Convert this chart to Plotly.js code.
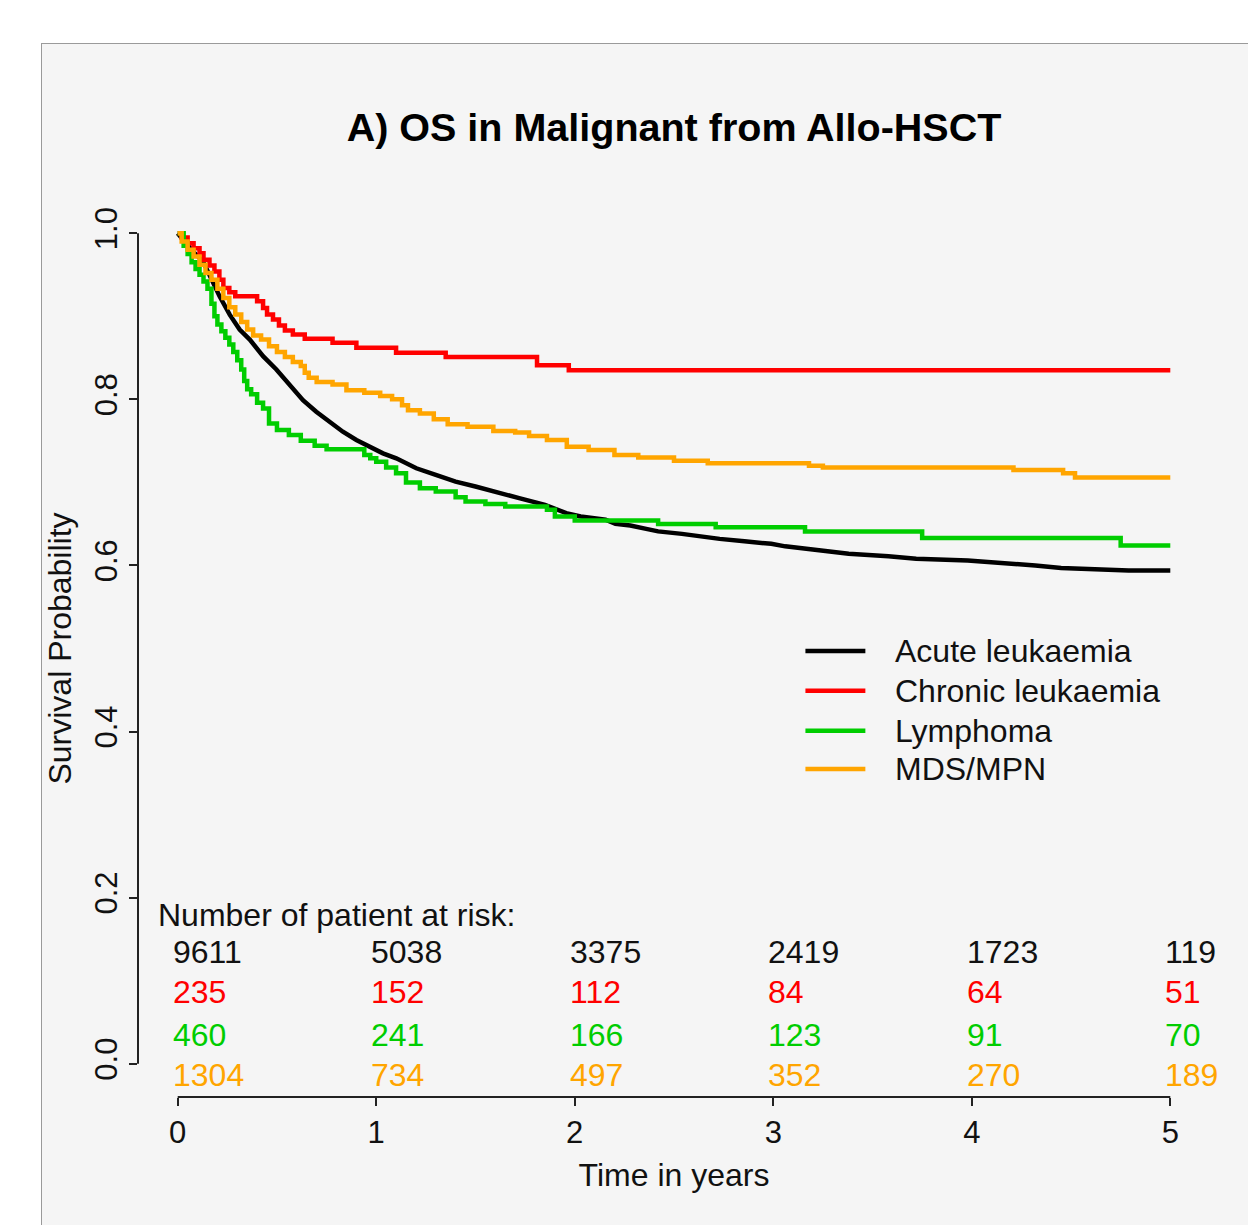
<!DOCTYPE html>
<html><head><meta charset="utf-8">
<script src="https://cdn.plot.ly/plotly-3.0.1.min.js"></script>
<style>
html,body{margin:0;padding:0;background:#fff;width:1248px;height:1225px;overflow:hidden;}
#panel{position:absolute;left:41px;top:43px;width:1207px;height:1182px;border-left:1px solid #9a9a9a;border-top:1px solid #9a9a9a;background:#f5f5f5;}
#chart{position:absolute;left:42px;top:44px;width:1206px;height:1181px;}
</style></head>
<body><div id="panel"></div><div id="chart"></div>
<script>
// ---- data ----
const groupNames = ['Acute leukaemia', 'Chronic leukaemia', 'Lymphoma', 'MDS/MPN'];
const groupColors = ['#000000', '#ff0000', '#00cd00', '#ffa500'];
const timeTicks = [0, 1, 2, 3, 4, 5];

const acuteTime = [0, 0.027, 0.077, 0.128, 0.178, 0.211, 0.262, 0.312, 0.363, 0.430, 0.497, 0.564, 0.631, 0.698, 0.765, 0.832, 0.900, 0.967, 1.034, 1.101, 1.202, 1.30, 1.40, 1.50, 1.62, 1.72, 1.85, 1.915, 1.957, 2.03, 2.155, 2.205, 2.28, 2.36, 2.42, 2.54, 2.63, 2.73, 2.855, 2.99, 3.06, 3.16, 3.26, 3.38, 3.58, 3.72, 3.98, 4.18, 4.32, 4.45, 4.79, 5.0];
const acuteSurv = [1.0, 0.992, 0.978, 0.966, 0.940, 0.924, 0.902, 0.884, 0.872, 0.852, 0.836, 0.817, 0.799, 0.785, 0.773, 0.761, 0.751, 0.743, 0.735, 0.729, 0.717, 0.709, 0.701, 0.695, 0.688, 0.681, 0.673, 0.667, 0.663, 0.659, 0.655, 0.650, 0.648, 0.644, 0.641, 0.638, 0.635, 0.632, 0.629, 0.626, 0.623, 0.620, 0.617, 0.614, 0.611, 0.608, 0.606, 0.603, 0.600, 0.597, 0.594, 0.594];

const chronicTime = [0, 0.02, 0.05, 0.08, 0.11, 0.13, 0.16, 0.185, 0.21, 0.23, 0.26, 0.29, 0.40, 0.43, 0.45, 0.48, 0.51, 0.54, 0.58, 0.64, 0.78, 0.90, 1.10, 1.35, 1.81, 1.97, 5.0];
const chronicSurv = [1.0, 0.995, 0.988, 0.982, 0.976, 0.968, 0.961, 0.954, 0.944, 0.934, 0.929, 0.924, 0.918, 0.910, 0.902, 0.896, 0.889, 0.883, 0.878, 0.873, 0.868, 0.862, 0.856, 0.851, 0.841, 0.835, 0.835];

const lymphTime = [0, 0.03, 0.05, 0.07, 0.09, 0.11, 0.13, 0.15, 0.17, 0.185, 0.20, 0.22, 0.24, 0.26, 0.28, 0.30, 0.32, 0.335, 0.35, 0.37, 0.40, 0.43, 0.46, 0.50, 0.56, 0.62, 0.69, 0.75, 0.94, 0.97, 1.0, 1.05, 1.10, 1.15, 1.22, 1.30, 1.40, 1.45, 1.55, 1.65, 1.86, 1.90, 2.0, 2.42, 2.71, 3.16, 3.75, 4.75, 5.0];
const lymphSurv = [1.0, 0.985, 0.975, 0.965, 0.957, 0.950, 0.942, 0.933, 0.915, 0.900, 0.890, 0.882, 0.874, 0.866, 0.857, 0.847, 0.836, 0.822, 0.812, 0.806, 0.796, 0.789, 0.771, 0.763, 0.757, 0.750, 0.744, 0.740, 0.733, 0.729, 0.725, 0.718, 0.711, 0.700, 0.693, 0.689, 0.682, 0.677, 0.674, 0.671, 0.667, 0.659, 0.654, 0.650, 0.646, 0.641, 0.633, 0.624, 0.624];

const mdsTime = [0, 0.02, 0.05, 0.08, 0.11, 0.14, 0.17, 0.20, 0.23, 0.26, 0.29, 0.32, 0.35, 0.38, 0.42, 0.46, 0.50, 0.54, 0.58, 0.62, 0.64, 0.66, 0.70, 0.78, 0.85, 0.94, 1.02, 1.08, 1.13, 1.16, 1.22, 1.29, 1.36, 1.46, 1.59, 1.70, 1.77, 1.86, 1.96, 2.07, 2.20, 2.32, 2.50, 2.67, 3.18, 3.25, 4.21, 4.46, 4.52, 5.0];
const mdsSurv = [1.0, 0.990, 0.980, 0.972, 0.962, 0.952, 0.944, 0.933, 0.922, 0.911, 0.902, 0.893, 0.884, 0.877, 0.872, 0.864, 0.857, 0.851, 0.845, 0.840, 0.832, 0.826, 0.821, 0.818, 0.811, 0.808, 0.804, 0.800, 0.793, 0.787, 0.783, 0.776, 0.770, 0.767, 0.762, 0.760, 0.756, 0.751, 0.743, 0.739, 0.733, 0.730, 0.726, 0.723, 0.720, 0.718, 0.715, 0.711, 0.706, 0.706];

const atRiskAcute = [9611, 5038, 3375, 2419, 1723, 119];
const atRiskChronic = [235, 152, 112, 84, 64, 51];
const atRiskLymph = [460, 241, 166, 123, 91, 70];
const atRiskMds = [1304, 734, 497, 352, 270, 189];

const yTickVals = [0, 0.2, 0.4, 0.6, 0.8, 1.0];
const yTickText = ['0.0', '0.2', '0.4', '0.6', '0.8', '1.0'];

// ---- chart ----
const FONT = 'Liberation Sans, Arial, Helvetica, sans-serif';
const LINE_W = 4.5;
const series = [[acuteTime, acuteSurv, 'linear'], [chronicTime, chronicSurv, 'hv'], [lymphTime, lymphSurv, 'hv'], [mdsTime, mdsSurv, 'hv']];
const traces = series.map((s, i) => ({
  x: s[0], y: s[1], type: 'scatter', mode: 'lines', name: groupNames[i],
  line: {color: groupColors[i], width: LINE_W, shape: s[2]}, hoverinfo: 'skip', showlegend: false
}));

const atRisk = [atRiskAcute, atRiskChronic, atRiskLymph, atRiskMds];
const rowLevels = [0.135, 0.087, 0.035, -0.014];
const annotations = [{
  xref: 'x', yref: 'y', x: -0.108, y: 0.179, xanchor: 'left', yanchor: 'middle',
  text: 'Number of patient at risk:', showarrow: false,
  font: {family: FONT, size: 32, color: '#111'}
}];
atRisk.forEach((row, i) => {
  row.forEach((n, j) => {
    annotations.push({
      xref: 'x', yref: 'y', x: timeTicks[j] - 0.035, y: rowLevels[i],
      xanchor: 'left', yanchor: 'middle', text: String(n), showarrow: false,
      font: {family: FONT, size: 32, color: i === 0 ? '#111' : groupColors[i]}
    });
  });
});

// legend key (drawn as in the original: long line sample + label)
const legendLevels = [0.497, 0.449, 0.401, 0.355];
const shapes = [
  {type: 'line', xref: 'x', yref: 'paper', x0: timeTicks[0], x1: timeTicks[timeTicks.length - 1], y0: 0, y1: 0, line: {color: '#222', width: 2}},
  {type: 'line', xref: 'paper', yref: 'y', x0: 0, x1: 0, y0: yTickVals[0], y1: yTickVals[yTickVals.length - 1], line: {color: '#222', width: 2}}
];
groupNames.forEach((name, i) => {
  shapes.push({type: 'line', xref: 'x', yref: 'y', x0: 3.162, x1: 3.464, y0: legendLevels[i], y1: legendLevels[i],
    line: {color: groupColors[i], width: LINE_W}});
  annotations.push({xref: 'x', yref: 'y', x: 3.605, y: legendLevels[i], xanchor: 'left', yanchor: 'middle',
    text: name, showarrow: false, font: {family: FONT, size: 32, color: '#111'}});
});

const layout = {
  width: 1206, height: 1181,
  margin: {l: 96, r: 38, t: 156, b: 128},
  paper_bgcolor: '#f5f5f5', plot_bgcolor: '#f5f5f5',
  font: {family: FONT, size: 31, color: '#111'},
  title: {
    text: '<b>A) OS in Malignant from Allo-HSCT</b>',
    font: {family: FONT, size: 39.5, color: '#000'},
    x: 0.5, xref: 'paper', y: 1 - 83 / 1181, yref: 'container', yanchor: 'middle'
  },
  xaxis: {
    range: [-0.2, 5.2], tickvals: timeTicks, ticktext: timeTicks.map(String),
    ticks: 'outside', ticklen: 8, tickwidth: 2, tickcolor: '#222',
    showgrid: false, zeroline: false, showline: false,
    tickfont: {family: FONT, size: 31, color: '#111'},
    title: {text: 'Time in years', font: {family: FONT, size: 32, color: '#111'}, standoff: 14}
  },
  yaxis: {
    range: [-0.04, 1.04], tickvals: yTickVals, ticktext: yTickText, tickangle: -90,
    ticks: 'outside', ticklen: 8, tickwidth: 2, tickcolor: '#222',
    showgrid: false, zeroline: false, showline: false,
    tickfont: {family: FONT, size: 31, color: '#111'},
    title: {text: 'Survival Probability', font: {family: FONT, size: 32, color: '#111'}, standoff: 17}
  },
  shapes: shapes,
  showlegend: false,
  annotations: annotations
};

Plotly.newPlot('chart', traces, layout, {displayModeBar: false, staticPlot: true});
</script></body></html>
